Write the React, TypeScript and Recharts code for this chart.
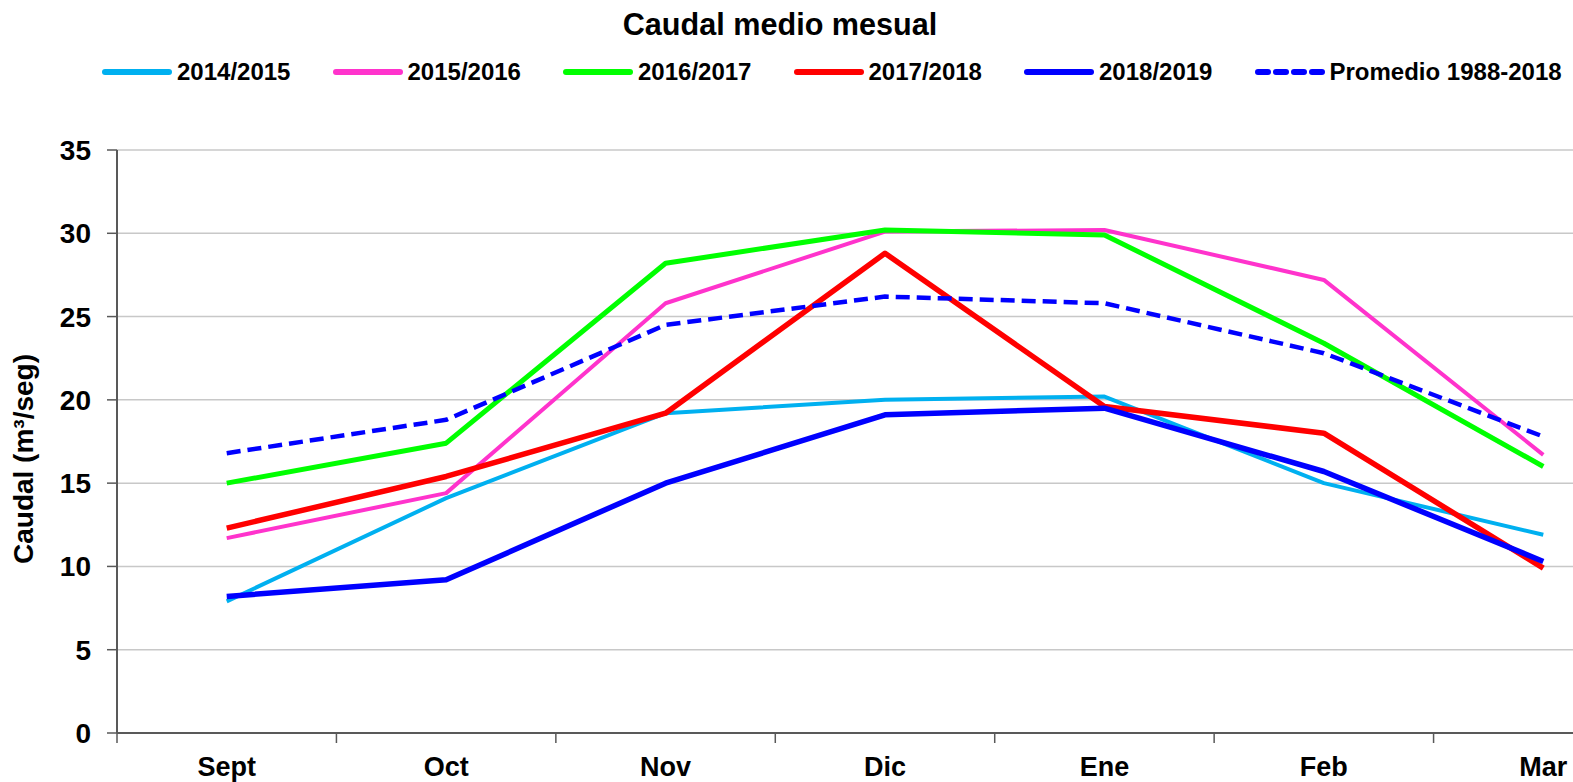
import React from "react";
import {
  LineChart,
  Line,
  XAxis,
  YAxis,
  CartesianGrid,
  Legend,
} from "recharts";

// Caudal medio mensual (m³/seg)
const months = ["Sept", "Oct", "Nov", "Dic", "Ene", "Feb", "Mar"];
const y2014_2015 = [7.9, 14.1, 19.2, 20.0, 20.2, 15.0, 11.9];
const y2015_2016 = [11.7, 14.4, 25.8, 30.1, 30.2, 27.2, 16.7];
const y2016_2017 = [15.0, 17.4, 28.2, 30.2, 29.9, 23.4, 16.0];
const y2017_2018 = [12.3, 15.4, 19.2, 28.8, 19.6, 18.0, 9.9];
const y2018_2019 = [8.2, 9.2, 15.0, 19.1, 19.5, 15.7, 10.3];
const promedio = [16.8, 18.8, 24.5, 26.2, 25.8, 22.8, 17.8];
const yTicks = [0, 5, 10, 15, 20, 25, 30, 35];

const series = [
  { key: "a", name: "2014/2015", color: "#00B0F0", width: 4, values: y2014_2015 },
  { key: "b", name: "2015/2016", color: "#FF33CC", width: 4, values: y2015_2016 },
  { key: "c", name: "2016/2017", color: "#00FF00", width: 5, values: y2016_2017 },
  { key: "d", name: "2017/2018", color: "#FF0000", width: 5.5, values: y2017_2018 },
  { key: "e", name: "2018/2019", color: "#0000FF", width: 5.5, values: y2018_2019 },
  { key: "f", name: "Promedio 1988-2018", color: "#0000FF", width: 4.5, dash: "14 7", values: promedio },
];

const data = months.map((m, i) => {
  const row: Record<string, string | number> = { month: m };
  series.forEach((s) => {
    row[s.key] = s.values[i];
  });
  return row;
});

const FONT = "'Liberation Sans', Arial, sans-serif";
const AXIS = "#595959";

const XTick = (props: any) => {
  const { x, y, payload } = props;
  const off = payload?.offset ?? 0;
  const axisY = y - 10 - 14;
  return (
    <g>
      <line x1={x - off} x2={x - off} y1={axisY} y2={axisY + 10} stroke={AXIS} strokeWidth={1.5} />
      <text
        x={x}
        y={y}
        dy="0.71em"
        textAnchor="middle"
        fontFamily={FONT}
        fontWeight="bold"
        fontSize={27}
        fill="#000"
      >
        {payload.value}
      </text>
    </g>
  );
};

const renderLegend = () => (
  <div style={{ height: 32, position: "relative", fontFamily: FONT }}>
    {series.map((s, i) => (
      <div
        key={s.key}
        style={{
          position: "absolute",
          left: 102 + i * 230.5,
          top: 0,
          height: 32,
          display: "flex",
          alignItems: "center",
          whiteSpace: "nowrap",
        }}
      >
        <svg width={70} height={10} style={{ marginRight: 5 }}>
          <line
            x1={3}
            x2={67}
            y1={5}
            y2={5}
            stroke={s.color}
            strokeWidth={6}
            strokeLinecap="round"
            strokeDasharray={s.dash ? "10 8" : undefined}
          />
        </svg>
        <span style={{ fontSize: 24, fontWeight: "bold", color: "#000" }}>{s.name}</span>
      </div>
    ))}
  </div>
);

export default function App() {
  return (
    <div
      style={{
        position: "absolute",
        left: 0,
        top: 0,
        width: 1573,
        height: 782,
        overflow: "hidden",
        background: "#fff",
      }}
    >
      <div
        style={{
          position: "absolute",
          left: 780,
          top: 7,
          transform: "translateX(-50%)",
          fontFamily: FONT,
          fontWeight: "bold",
          fontSize: 30.6,
          whiteSpace: "nowrap",
          color: "#000",
        }}
      >
        Caudal medio mesual
      </div>
      <LineChart
        width={1660}
        height={782}
        data={data}
        margin={{ top: 118, right: 7, bottom: 0, left: 0 }}
      >
        <CartesianGrid horizontal vertical={false} stroke="#C8C8C8" strokeWidth={1.5} />
        <Legend
          verticalAlign="top"
          align="left"
          content={renderLegend}
          wrapperStyle={{ top: 56, left: 0, width: 1573 }}
        />
        <XAxis
          dataKey="month"
          scale="band"
          interval={0}
          height={49}
          tickSize={10}
          tickMargin={14}
          tickLine={false}
          axisLine={{ stroke: AXIS, strokeWidth: 2 }}
          tick={<XTick />}
        />
        <YAxis
          domain={[0, 35]}
          ticks={yTicks}
          width={117}
          tickSize={10}
          tickMargin={16}
          axisLine={{ stroke: AXIS, strokeWidth: 2 }}
          tickLine={{ stroke: AXIS, strokeWidth: 1.5 }}
          tick={{ fontFamily: FONT, fontWeight: "bold", fontSize: 28, fill: "#000" }}
          label={{
            content: () => (
              <text
                x={33}
                y={459}
                transform="rotate(-90 33 459)"
                textAnchor="middle"
                fontFamily={FONT}
                fontWeight="bold"
                fontSize={28}
                fill="#000"
              >
                Caudal (m³/seg)
              </text>
            ),
          }}
        />
        {series.map((s) => (
          <Line
            key={s.key}
            type="linear"
            dataKey={s.key}
            name={s.name}
            stroke={s.color}
            strokeWidth={s.width}
            strokeDasharray={s.dash}
            strokeLinejoin="round"
            dot={false}
            activeDot={false}
            isAnimationActive={false}
          />
        ))}
      </LineChart>
    </div>
  );
}
